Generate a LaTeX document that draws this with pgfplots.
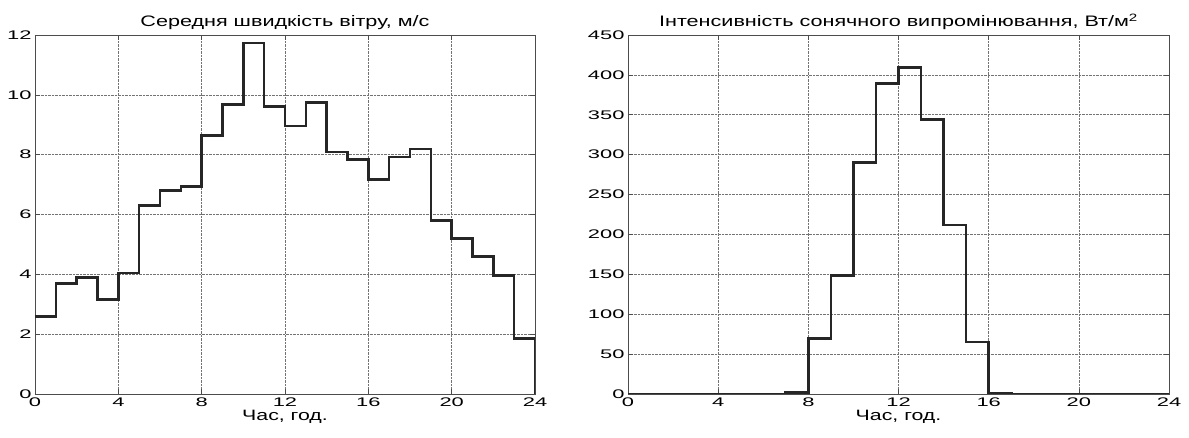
\documentclass[border=0pt]{standalone}
\usepackage{fontspec}
\setmainfont{Liberation Sans}
\newfontfamily\tickfont{Liberation Sans}[FakeStretch=1.75]
\newfontfamily\labfont{Liberation Sans}[FakeStretch=1.42]
\usepackage{pgfplots}
\pgfplotsset{compat=1.18}
\pgfplotsset{
  ml/.style={
    scale only axis, height=359pt,
    xmin=0, xmax=24, xtick={0,4,...,24},
    grid=major,
    grid style={densely dotted, draw=black!55, line width=0.6pt},
    axis line style={draw=black!70, line width=0.8pt},
    tick align=inside, major tick length=5pt,
    tick style={draw=black!70, line width=0.6pt},
    ticklabel style={font=\tickfont\fontsize{12.5}{14}\selectfont},
    /pgf/number format/assume math mode=true,
    label style={font=\labfont\fontsize{15}{17}\selectfont},
    title style={font=\labfont\fontsize{15.2}{17}\selectfont, yshift=-4pt},
    xlabel={Час, год.},
    xlabel style={yshift=3pt},
  },
  step/.style={const plot mark left, draw=black!85, line width=2.6pt, line join=miter, mark=none},
}
\begin{document}
\begin{tikzpicture}
\useasboundingbox (-35pt,-44pt) rectangle (1154pt,394pt);
\begin{axis}[ml, at={(0pt,0pt)}, anchor=south west, width=500pt,
  ymin=0, ymax=12, ytick={0,2,...,12},
  title={Середня швидкість вітру, м/с}]
\addplot[step] coordinates {
(0,2.60) (1,3.69) (2,3.90) (3,3.15) (4,4.04) (5,6.30) (6,6.80) (7,6.93)
(8,8.64) (9,9.67) (10,11.73) (11,9.60) (12,8.96) (13,9.75) (14,8.09) (15,7.83)
(16,7.17) (17,7.92) (18,8.19) (19,5.79) (20,5.20) (21,4.59) (22,3.97) (23,1.86)
(24,0)};
\end{axis}
\begin{axis}[ml, at={(593pt,0pt)}, anchor=south west, width=541pt,
  ymin=0, ymax=450, ytick={0,50,...,450},
  title={Інтенсивність сонячного випромінювання, Вт/м\textsuperscript{2}}]
\addplot[step] coordinates {
(0,0) (1,0) (2,0) (3,0) (4,0) (5,0) (6,0) (7,2)
(8,69.5) (9,148.6) (10,289.8) (11,389) (12,409) (13,344) (14,212) (15,65)
(16,0.5) (17,0) (18,0) (19,0) (20,0) (21,0) (22,0) (23,0)
(24,0)};
\end{axis}
\end{tikzpicture}
\end{document}
